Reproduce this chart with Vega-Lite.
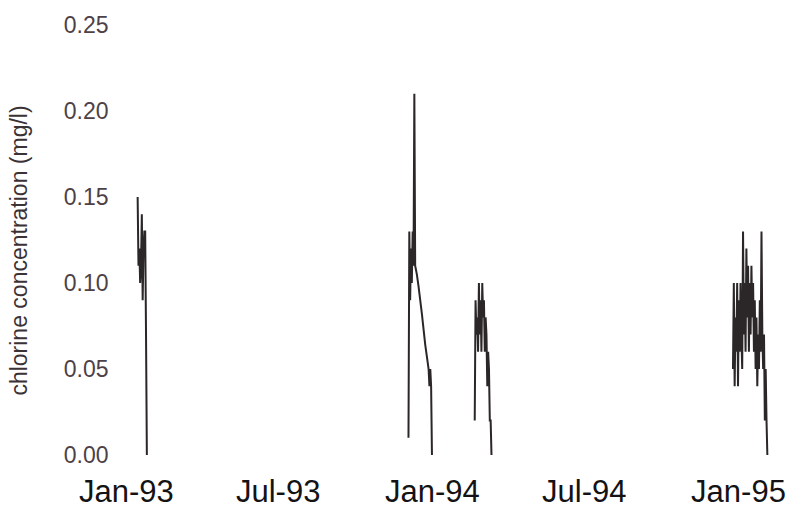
{
  "$schema": "https://vega.github.io/schema/vega-lite/v6.json",
  "autosize": "none",
  "width": 675,
  "height": 430,
  "padding": {"left": 115, "top": 25, "right": 3, "bottom": 60},
  "background": "white",
  "config": {"view": {"stroke": null}, "font": "Liberation Sans"},
  "data": {"values": [
    {"date": "1993-01-15", "cl": 0.15, "seg": "a"},
    {"date": "1993-01-16", "cl": 0.11, "seg": "a"},
    {"date": "1993-01-17", "cl": 0.12, "seg": "a"},
    {"date": "1993-01-18", "cl": 0.10, "seg": "a"},
    {"date": "1993-01-19", "cl": 0.11, "seg": "a"},
    {"date": "1993-01-20", "cl": 0.14, "seg": "a"},
    {"date": "1993-01-21", "cl": 0.09, "seg": "a"},
    {"date": "1993-01-22", "cl": 0.12, "seg": "a"},
    {"date": "1993-01-23", "cl": 0.13, "seg": "a"},
    {"date": "1993-01-24", "cl": 0.13, "seg": "a"},
    {"date": "1993-01-25", "cl": 0.07, "seg": "a"},
    {"date": "1993-01-26", "cl": 0.00, "seg": "a"},

    {"date": "1993-12-04", "cl": 0.01, "seg": "b"},
    {"date": "1993-12-05", "cl": 0.13, "seg": "b"},
    {"date": "1993-12-06", "cl": 0.09, "seg": "b"},
    {"date": "1993-12-07", "cl": 0.12, "seg": "b"},
    {"date": "1993-12-08", "cl": 0.10, "seg": "b"},
    {"date": "1993-12-09", "cl": 0.13, "seg": "b"},
    {"date": "1993-12-10", "cl": 0.11, "seg": "b"},
    {"date": "1993-12-11", "cl": 0.21, "seg": "b"},
    {"date": "1993-12-12", "cl": 0.11, "seg": "b"},
    {"date": "1993-12-14", "cl": 0.105, "seg": "b"},
    {"date": "1993-12-16", "cl": 0.098, "seg": "b"},
    {"date": "1993-12-18", "cl": 0.09, "seg": "b"},
    {"date": "1993-12-20", "cl": 0.082, "seg": "b"},
    {"date": "1993-12-22", "cl": 0.073, "seg": "b"},
    {"date": "1993-12-24", "cl": 0.064, "seg": "b"},
    {"date": "1993-12-26", "cl": 0.057, "seg": "b"},
    {"date": "1993-12-28", "cl": 0.05, "seg": "b"},
    {"date": "1993-12-29", "cl": 0.04, "seg": "b"},
    {"date": "1993-12-30", "cl": 0.05, "seg": "b"},
    {"date": "1993-12-31", "cl": 0.04, "seg": "b"},
    {"date": "1994-01-01", "cl": 0.00, "seg": "b"},

    {"date": "1994-02-21", "cl": 0.02, "seg": "c"},
    {"date": "1994-02-22", "cl": 0.09, "seg": "c"},
    {"date": "1994-02-23", "cl": 0.07, "seg": "c"},
    {"date": "1994-02-24", "cl": 0.08, "seg": "c"},
    {"date": "1994-02-25", "cl": 0.06, "seg": "c"},
    {"date": "1994-02-26", "cl": 0.10, "seg": "c"},
    {"date": "1994-02-27", "cl": 0.07, "seg": "c"},
    {"date": "1994-02-28", "cl": 0.09, "seg": "c"},
    {"date": "1994-03-01", "cl": 0.06, "seg": "c"},
    {"date": "1994-03-02", "cl": 0.10, "seg": "c"},
    {"date": "1994-03-03", "cl": 0.08, "seg": "c"},
    {"date": "1994-03-04", "cl": 0.09, "seg": "c"},
    {"date": "1994-03-05", "cl": 0.06, "seg": "c"},
    {"date": "1994-03-06", "cl": 0.08, "seg": "c"},
    {"date": "1994-03-07", "cl": 0.07, "seg": "c"},
    {"date": "1994-03-08", "cl": 0.04, "seg": "c"},
    {"date": "1994-03-09", "cl": 0.06, "seg": "c"},
    {"date": "1994-03-10", "cl": 0.05, "seg": "c"},
    {"date": "1994-03-11", "cl": 0.02, "seg": "c"},
    {"date": "1994-03-12", "cl": 0.02, "seg": "c"},
    {"date": "1994-03-13", "cl": 0.00, "seg": "c"},

    {"date": "1994-12-26", "cl": 0.05, "seg": "d"},
    {"date": "1994-12-27", "cl": 0.10, "seg": "d"},
    {"date": "1994-12-28", "cl": 0.04, "seg": "d"},
    {"date": "1994-12-29", "cl": 0.08, "seg": "d"},
    {"date": "1994-12-30", "cl": 0.06, "seg": "d"},
    {"date": "1994-12-31", "cl": 0.10, "seg": "d"},
    {"date": "1995-01-01", "cl": 0.04, "seg": "d"},
    {"date": "1995-01-02", "cl": 0.09, "seg": "d"},
    {"date": "1995-01-03", "cl": 0.06, "seg": "d"},
    {"date": "1995-01-04", "cl": 0.10, "seg": "d"},
    {"date": "1995-01-05", "cl": 0.07, "seg": "d"},
    {"date": "1995-01-06", "cl": 0.05, "seg": "d"},
    {"date": "1995-01-07", "cl": 0.13, "seg": "d"},
    {"date": "1995-01-08", "cl": 0.07, "seg": "d"},
    {"date": "1995-01-09", "cl": 0.10, "seg": "d"},
    {"date": "1995-01-10", "cl": 0.06, "seg": "d"},
    {"date": "1995-01-11", "cl": 0.12, "seg": "d"},
    {"date": "1995-01-12", "cl": 0.08, "seg": "d"},
    {"date": "1995-01-13", "cl": 0.11, "seg": "d"},
    {"date": "1995-01-14", "cl": 0.06, "seg": "d"},
    {"date": "1995-01-15", "cl": 0.10, "seg": "d"},
    {"date": "1995-01-16", "cl": 0.07, "seg": "d"},
    {"date": "1995-01-17", "cl": 0.11, "seg": "d"},
    {"date": "1995-01-18", "cl": 0.08, "seg": "d"},
    {"date": "1995-01-19", "cl": 0.10, "seg": "d"},
    {"date": "1995-01-20", "cl": 0.06, "seg": "d"},
    {"date": "1995-01-21", "cl": 0.09, "seg": "d"},
    {"date": "1995-01-22", "cl": 0.05, "seg": "d"},
    {"date": "1995-01-23", "cl": 0.08, "seg": "d"},
    {"date": "1995-01-24", "cl": 0.04, "seg": "d"},
    {"date": "1995-01-25", "cl": 0.07, "seg": "d"},
    {"date": "1995-01-26", "cl": 0.05, "seg": "d"},
    {"date": "1995-01-27", "cl": 0.09, "seg": "d"},
    {"date": "1995-01-28", "cl": 0.06, "seg": "d"},
    {"date": "1995-01-29", "cl": 0.13, "seg": "d"},
    {"date": "1995-01-30", "cl": 0.07, "seg": "d"},
    {"date": "1995-01-31", "cl": 0.05, "seg": "d"},
    {"date": "1995-02-01", "cl": 0.07, "seg": "d"},
    {"date": "1995-02-02", "cl": 0.02, "seg": "d"},
    {"date": "1995-02-03", "cl": 0.05, "seg": "d"},
    {"date": "1995-02-04", "cl": 0.02, "seg": "d"},
    {"date": "1995-02-05", "cl": 0.00, "seg": "d"}
  ]},
  "mark": {"type": "line", "color": "#2b2628", "strokeWidth": 2},
  "encoding": {
    "x": {
      "field": "date",
      "type": "temporal",
      "scale": {
        "type": "utc",
        "domain": [
          {"year": 1992, "month": 12, "date": 19, "utc": true},
          {"year": 1995, "month": 3, "date": 4, "utc": true}
        ]
      },
      "axis": {
        "title": null,
        "domain": false,
        "ticks": false,
        "grid": false,
        "values": [
          {"year": 1993, "month": 1, "date": 1, "utc": true},
          {"year": 1993, "month": 7, "date": 1, "utc": true},
          {"year": 1994, "month": 1, "date": 1, "utc": true},
          {"year": 1994, "month": 7, "date": 1, "utc": true},
          {"year": 1995, "month": 1, "date": 1, "utc": true}
        ],
        "labelExpr": "utcFormat(datum.value, '%b-%y')",
        "labelFontSize": 31,
        "labelColor": "#141213",
        "labelPadding": 22,
        "labelFlush": false,
        "labelOverlap": false
      }
    },
    "y": {
      "field": "cl",
      "type": "quantitative",
      "scale": {"domain": [0, 0.25], "nice": false, "zero": true},
      "axis": {
        "title": "chlorine concentration (mg/l)",
        "titleFontSize": 23,
        "titleFontWeight": "normal",
        "titleColor": "#3b3236",
        "titlePadding": 32,
        "titleY": 225,
        "domain": false,
        "ticks": false,
        "grid": false,
        "values": [0, 0.05, 0.1, 0.15, 0.2, 0.25],
        "format": ".2f",
        "labelFontSize": 23,
        "labelColor": "#4d4147",
        "labelPadding": 7
      }
    },
    "detail": {"field": "seg", "type": "nominal"}
  }
}
